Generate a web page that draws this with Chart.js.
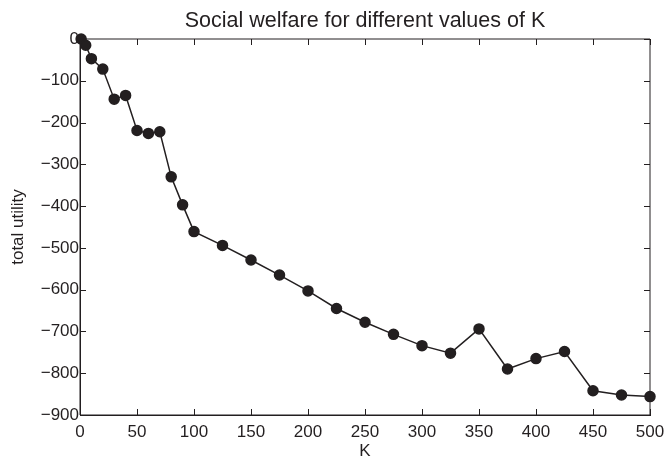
<!DOCTYPE html>
<html>
<head>
<meta charset="utf-8">
<script src="https://cdn.jsdelivr.net/npm/chart.js@4/dist/chart.umd.min.js"></script>
<style>
  html, body { margin: 0; padding: 0; background: #fff; }
  #wrap { width: 666px; height: 462px; }
</style>
</head>
<body>
<div id="wrap"><canvas id="chart"></canvas></div>
<script>
const K_VALUES = [1, 5, 10, 20, 30, 40, 50, 60, 70, 80, 90, 100, 125, 150, 175, 200, 225, 250, 275, 300, 325, 350, 375, 400, 425, 450, 475, 500];
const UTILITY = [0, -15, -47, -72, -144, -135, -219, -226, -222, -330, -397, -461, -494, -529, -565, -603, -645, -678, -707, -734, -752, -694, -790, -765, -748, -842, -852, -856];
const X_TICKS = [0, 50, 100, 150, 200, 250, 300, 350, 400, 450, 500];
const Y_TICKS = [0, -100, -200, -300, -400, -500, -600, -700, -800, -900];
const TITLE = 'Social welfare for different values of K';

const INK = '#231f20';
const FONT = 'Liberation Sans, Arial, Helvetica, sans-serif';

const points = K_VALUES.map((k, i) => ({x: k, y: UTILITY[i]}));

// matlab style box with inward tick marks, title centred over the axes
const boxTicks = {
    id: 'boxTicks',
    afterDatasetsDraw(chart) {
        const {ctx, chartArea: a, scales: {x, y}} = chart;
        const len = 6;
        ctx.save();
        ctx.strokeStyle = INK;
        ctx.lineWidth = 1;
        ctx.beginPath();
        ctx.rect(a.left, a.top, a.right - a.left, a.bottom - a.top);
        X_TICKS.forEach(v => {
            const px = Math.round(x.getPixelForValue(v)) + 0.5;
            ctx.moveTo(px, a.bottom); ctx.lineTo(px, a.bottom - len);
            ctx.moveTo(px, a.top); ctx.lineTo(px, a.top + len);
        });
        Y_TICKS.forEach(v => {
            const py = Math.round(y.getPixelForValue(v)) + 0.5;
            ctx.moveTo(a.left, py); ctx.lineTo(a.left + len, py);
            ctx.moveTo(a.right, py); ctx.lineTo(a.right - len, py);
        });
        ctx.stroke();

        ctx.fillStyle = INK;
        ctx.font = '21.5px ' + FONT;
        ctx.textAlign = 'center';
        ctx.textBaseline = 'alphabetic';
        ctx.fillText(TITLE, (a.left + a.right) / 2, 27);
        ctx.restore();
    }
};

new Chart(document.getElementById('chart'), {
    type: 'scatter',
    data: {
        datasets: [{
            data: points,
            showLine: true,
            borderColor: INK,
            backgroundColor: INK,
            borderWidth: 1.5,
            pointRadius: 5,
            pointHoverRadius: 5,
            clip: false,
        }]
    },
    options: {
        responsive: true,
        maintainAspectRatio: false,
        animation: false,
        layout: {padding: {left: 0, right: 16, top: 39, bottom: 0}},
        scales: {
            x: {
                min: 0,
                max: 500,
                afterBuildTicks: s => { s.ticks = X_TICKS.map(v => ({value: v})); },
                afterFit: s => { s.height = 47; s.paddingLeft = 0; s.paddingRight = 0; },
                grid: {display: false, drawTicks: false},
                border: {display: true, color: INK, width: 1},
                ticks: {color: INK, font: {family: FONT, size: 17}, padding: 7, maxRotation: 0},
                title: {display: true, text: 'K', color: INK, font: {family: FONT, size: 17}, padding: {top: 2, bottom: 0}},
            },
            y: {
                min: -900,
                max: 0,
                afterBuildTicks: s => { s.ticks = Y_TICKS.map(v => ({value: v})); },
                afterFit: s => { s.width = 80; },
                grid: {display: false, drawTicks: false},
                border: {display: true, color: INK, width: 1},
                ticks: {
                    color: INK,
                    font: {family: FONT, size: 17},
                    padding: 1,
                    callback: v => String(v).replace('-', '\u2212'),
                },
                title: {display: true, text: 'total utility', color: INK, font: {family: FONT, size: 17}, padding: {top: 8, bottom: 0}},
            },
        },
        plugins: {
            legend: {display: false},
            tooltip: {enabled: false},
            title: {display: false},
        },
    },
    plugins: [boxTicks],
});
</script>
</body>
</html>
